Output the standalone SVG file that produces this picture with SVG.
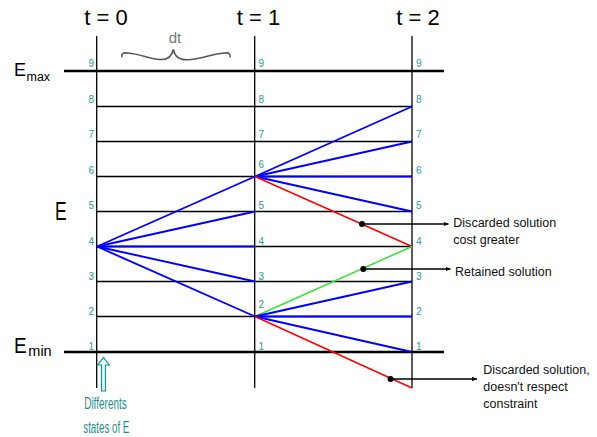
<svg xmlns="http://www.w3.org/2000/svg" width="597" height="437" viewBox="0 0 597 437">
<defs>
<marker id="ah" markerUnits="userSpaceOnUse" markerWidth="6" markerHeight="6" refX="5" refY="3" orient="auto">
<path d="M0,0.8 L5,3 L0,5.2 z" fill="#000"/>
</marker>
</defs>
<style>
.thin{stroke:#000;stroke-width:1.3;fill:none}
.thick{stroke:#000;stroke-width:2.6;fill:none}
.blue{stroke:#0000ff;stroke-width:1.9;fill:none}
.red{stroke:#ff0000;stroke-width:1.5;fill:none}
.green{stroke:#33e633;stroke-width:1.5;fill:none}
.num{font-family:"Liberation Sans",Arial,sans-serif;font-size:10px;fill:#2a9a9a}
.hdr{font-family:"Liberation Sans",Arial,sans-serif;font-size:22px;fill:#000;text-anchor:middle}
.ann{font-family:"Liberation Sans",Arial,sans-serif;font-size:12.5px;fill:#111}
.lead{stroke:#000;stroke-width:1.4;fill:none}
.teal{font-family:"Liberation Sans",Arial,sans-serif;font-size:17px;fill:#1f8f8f;text-anchor:middle}
</style>

<g id="headers">
<text class="hdr" x="106" y="25">t = 0</text>
<text class="hdr" x="258.5" y="25">t = 1</text>
<text class="hdr" x="418" y="25">t = 2</text>
</g>

<g id="dt">
<text x="175" y="42.5" font-family="Liberation Sans, Arial, sans-serif" font-size="15" fill="#777" text-anchor="middle">dt</text>
<path d="M121.7,57.3 C121.5,53 123,52.5 128,53 C140,54 150,59 160,59.5 C168,60 172,56 173.3,49.3 C174.5,56 179,60 188,59.8 C200,59.5 212,54 224,53 C229,52.5 230.5,53 230,57.3" stroke="#555" stroke-width="1.6" fill="none"/>
</g>

<g id="axis-labels" font-family="Liberation Sans, Arial, sans-serif" fill="#000">
<text x="14" y="76" font-size="18">E</text>
<text x="26.5" y="81" font-size="12.5">max</text>
<text x="14" y="352.5" font-size="22" textLength="12.7" lengthAdjust="spacingAndGlyphs">E</text>
<text x="28.3" y="356" font-size="14.5">min</text>
<text x="55" y="220" font-size="25" textLength="11.7" lengthAdjust="spacingAndGlyphs">E</text>
</g>

<g id="grid">
<line class="thin" x1="96.7" y1="36" x2="96.7" y2="388"/>
<line class="thin" x1="254.7" y1="36" x2="254.7" y2="388"/>
<line class="thin" x1="412" y1="36" x2="412" y2="388"/>
<line class="thick" x1="64" y1="71" x2="444" y2="71"/>
<line class="thin" x1="97" y1="106.5" x2="412" y2="106.5"/>
<line class="thin" x1="97" y1="141.5" x2="412" y2="141.5"/>
<line class="thin" x1="97" y1="176.5" x2="412" y2="176.5"/>
<line class="thin" x1="97" y1="211.5" x2="412" y2="211.5"/>
<line class="thin" x1="97" y1="246.5" x2="412" y2="246.5"/>
<line class="thin" x1="97" y1="281.5" x2="412" y2="281.5"/>
<line class="thin" x1="97" y1="316.5" x2="412" y2="316.5"/>
<line class="thick" x1="64" y1="352" x2="444" y2="352"/>
</g>

<g id="state-numbers" class="num">
<g text-anchor="end">
<text x="94" y="66.5">9</text>
<text x="94" y="102.5">8</text>
<text x="94" y="137.5">7</text>
<text x="94" y="174">6</text>
<text x="94" y="209">5</text>
<text x="94" y="245">4</text>
<text x="94" y="280">3</text>
<text x="94" y="315">2</text>
<text x="94" y="350">1</text>
</g>
<text x="258.5" y="66.5">9</text>
<text x="258.5" y="102.5">8</text>
<text x="258.5" y="137.5">7</text>
<text x="258.5" y="168">6</text>
<text x="258.5" y="209">5</text>
<text x="258.5" y="245">4</text>
<text x="258.5" y="280">3</text>
<text x="258.5" y="308">2</text>
<text x="258.5" y="350">1</text>
<text x="416" y="66.5">9</text>
<text x="416" y="102.5">8</text>
<text x="416" y="137.5">7</text>
<text x="416" y="174">6</text>
<text x="416" y="209">5</text>
<text x="416" y="245">4</text>
<text x="416" y="280">3</text>
<text x="416" y="315">2</text>
<text x="416" y="350">1</text>
</g>

<g id="connectors">
<line class="blue" x1="97" y1="246.5" x2="255" y2="176.5"/>
<line class="blue" x1="97" y1="246.5" x2="255" y2="211.5"/>
<line class="blue" x1="97" y1="246.5" x2="255" y2="246.5"/>
<line class="blue" x1="97" y1="246.5" x2="255" y2="281.5"/>
<line class="blue" x1="97" y1="246.5" x2="255" y2="316.5"/>
<line class="blue" x1="255" y1="176.5" x2="412" y2="106.5"/>
<line class="blue" x1="255" y1="176.5" x2="412" y2="141.5"/>
<line class="blue" x1="255" y1="176.5" x2="412" y2="176.5"/>
<line class="blue" x1="255" y1="176.5" x2="412" y2="211.5"/>
<line class="red" x1="255" y1="176.5" x2="412" y2="246.5"/>
<line class="green" x1="255" y1="316.5" x2="412" y2="246.5"/>
<line class="blue" x1="255" y1="316.5" x2="412" y2="281.5"/>
<line class="blue" x1="255" y1="316.5" x2="412" y2="316.5"/>
<line class="blue" x1="255" y1="316.5" x2="412" y2="352"/>
<line class="red" x1="255" y1="316.5" x2="412" y2="388"/>
</g>

<g id="annotation-cost">
<circle cx="362" cy="224" r="3"/>
<line class="lead" x1="362" y1="224" x2="448.5" y2="224" marker-end="url(#ah)"/>
<text class="ann" x="453.3" y="226.5" textLength="103" lengthAdjust="spacingAndGlyphs">Discarded solution</text>
<text class="ann" x="453.3" y="243.5">cost greater</text>
</g>

<g id="annotation-retained">
<circle cx="363.3" cy="269" r="3"/>
<line class="lead" x1="363.3" y1="269" x2="450.5" y2="269" marker-end="url(#ah)"/>
<text class="ann" x="455" y="275.5">Retained solution</text>
</g>

<g id="annotation-constraint">
<circle cx="390.5" cy="379" r="3"/>
<line class="lead" x1="390.5" y1="379" x2="477" y2="379" marker-end="url(#ah)"/>
<text class="ann" x="483.3" y="373.5">Discarded solution,</text>
<text class="ann" x="483.3" y="391">doesn't respect</text>
<text class="ann" x="483.3" y="408">constraint</text>
</g>

<g id="states-note">
<path d="M103.5,357.5 L109.3,365 L105.5,365 L105.5,391 L101.5,391 L101.5,365 L97.7,365 Z" fill="#e6f5f5" stroke="#1f8f8f" stroke-width="1.2"/>
<text class="teal" x="105.5" y="409" textLength="42.7" lengthAdjust="spacingAndGlyphs">Differents</text>
<text class="teal" x="106.3" y="432.5" textLength="46" lengthAdjust="spacingAndGlyphs">states of E</text>
</g>
</svg>
